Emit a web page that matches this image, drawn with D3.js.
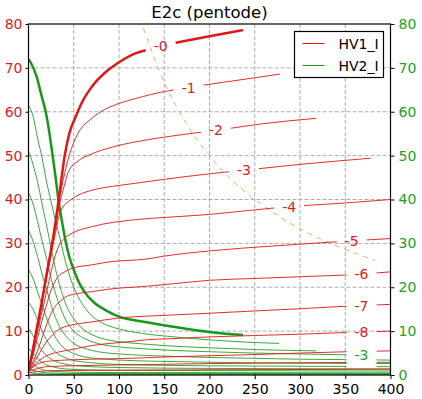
<!DOCTYPE html>
<html>
<head>
<meta charset="utf-8">
<script src="https://cdn.jsdelivr.net/npm/d3@7"></script>
<style>
  body { margin: 0; background: #fff; }
  svg { font-family: "DejaVu Sans", sans-serif; }
</style>
</head>
<body>
<div id="chart-area"></div>
<script>
// plate current (HV1_I) curves, one per grid step, [Va, mA]
var gridLabels = ["-0", "-1", "-2", "-3", "-4", "-5", "-6", "-7", "-8", "", "", ""];
var plateCurves = [
  [[0,1],[5,6],[10,11.5],[15,17],[20,23],[25,28.5],[30,35],[35,42.5],[40,50],[45,55],[52,58.8],[60,62.5],[70,65.7],[88,69.5],[101,71.4],[118,73.3],[132,74.2],[162,75.7],[200,77.2],[237,78.6]],
  [[0,1],[5,6],[10,11.5],[15,17],[20,23],[25,29],[30,35],[35,41],[40,46],[45,50],[50,53],[55,55.2],[70,58.5],[85,60.6],[100,61.9],[118,63],[150,64.6],[191,66],[252,67.8],[278,68.6]],
  [[0,1],[5,5.8],[10,11.2],[15,16.8],[20,22.5],[25,28.5],[30,34],[35,39.5],[40,43.5],[44,46.3],[55,48.8],[70,50.4],[90,51.8],[120,53.2],[153,54.3],[193,55.4],[222,56.2],[260,57.3],[318,58.5]],
  [[0,1],[5,5.5],[10,11],[15,16.5],[20,22],[25,27.5],[30,32.5],[34,36.5],[38,38.3],[44,39.5],[55,41],[70,42.1],[100,43.2],[118,43.7],[150,44.6],[202,45.9],[253,47],[300,48],[378,49.4]],
  [[0,1],[5,5],[10,10],[15,14.5],[20,19],[25,23.5],[30,27.5],[35,30],[40,31.2],[48,32.3],[70,33.8],[118,35.4],[150,35.9],[200,36.6],[268,38],[303,38.6],[350,39.2],[400,40]],
  [[0,1],[5,4.5],[10,8.5],[15,12.5],[20,16],[24,18.8],[28,20.8],[33,22.5],[40,23.5],[48,24.3],[70,25.1],[90,25.8],[129,26.4],[150,27.1],[201,28.3],[270,29.4],[342,30.4],[400,31.1]],
  [[0,1],[5,3],[10,5.5],[15,8.5],[20,11.5],[25,14],[30,15.8],[35,16.8],[42,17.9],[55,18.6],[70,19],[90,19.6],[129,20.2],[160,20.8],[201,21.6],[250,22],[300,22.4],[353,22.8],[400,23.5]],
  [[0,1],[5,2.5],[10,4.2],[15,6],[20,7.6],[25,8.8],[33,10.3],[40,11],[50,11.5],[70,12.1],[100,13],[129,13.4],[160,13.7],[202,14.1],[250,14.6],[300,15.1],[353,15.7],[400,16.1]],
  [[0,1],[5,2],[10,3],[15,3.8],[20,4.4],[30,5.1],[40,5.5],[50,5.9],[70,6.7],[90,7.2],[112,7.6],[129,8],[160,8.3],[202,8.7],[250,9],[300,9.3],[353,9.7],[400,10]],
  [[0,1],[5,1.8],[10,2.5],[15,2.9],[20,3.1],[40,3.4],[70,3.6],[112,3.8],[150,4.1],[239,4.6],[300,5],[352,5.3],[400,5.5]],
  [[0,0.8],[10,1.5],[20,1.9],[50,2.1],[100,2.3],[200,2.6],[300,2.8],[400,2.9]],
  [[0,0.5],[10,0.8],[30,1],[100,1.1],[400,1.3]]
];
// screen current (HV2_I) curves, same grid steps
var screenCurves = [
  [[0,72],[3,71],[9,68],[14,64],[20,59],[26,51],[30,45],[33,40],[37,35],[40.5,31],[45,27],[50,24],[56,21],[63,18.6],[73,16.4],[85,14.8],[100,13.3],[129,12.1],[160,11],[200,9.8],[237,9.1]],
  [[0,61.5],[5,59],[10,54],[15,49.5],[20,44],[25,39.5],[30,35],[35,31],[40,26.5],[50,20],[60,16],[70,13.5],[80,12],[100,10.5],[125,9.5],[150,8.9],[200,8],[250,7.4],[277,7.2]],
  [[0,51],[5,48],[10,44],[15,39],[20,34],[25,29],[30,24],[35,20],[40,16.8],[50,12.8],[60,10.5],[70,9.2],[80,8.4],[100,7.6],[125,7.1],[150,6.7],[200,6.2],[250,5.8],[318,5.5]],
  [[0,41.5],[5,39],[10,35],[15,30.5],[20,26.5],[25,22],[30,18.5],[35,15.5],[40,13],[50,10],[60,8.5],[70,7.6],[80,7],[100,6.4],[125,6],[150,5.7],[200,5.3],[250,5],[300,4.8],[352,4.6]],
  [[0,33],[5,30.5],[10,27],[15,23],[20,19.5],[25,16],[30,13],[35,10.8],[40,9.2],[50,7.2],[60,6.2],[70,5.6],[80,5.2],[100,4.8],[125,4.5],[150,4.3],[200,4],[250,3.8],[300,3.6],[352,3.5],[400,3.4]],
  [[0,24],[5,22],[10,19],[15,16],[20,13],[25,10.5],[30,8.5],[35,7],[40,6],[50,4.9],[60,4.2],[80,3.7],[100,3.4],[150,3.1],[200,2.9],[300,2.7],[400,2.6]],
  [[0,16.5],[5,15],[10,12.5],[15,10],[20,8],[25,6.4],[30,5.2],[40,4],[50,3.3],[60,3],[80,2.6],[100,2.4],[150,2.2],[200,2.1],[300,2],[400,1.9]],
  [[0,10.5],[5,9],[10,7.2],[15,5.6],[20,4.4],[25,3.6],[30,3.1],[40,2.5],[50,2.2],[80,1.8],[100,1.7],[200,1.5],[400,1.4]],
  [[0,6],[5,5],[10,3.8],[15,2.9],[20,2.3],[30,1.7],[40,1.4],[60,1.2],[100,1.05],[200,1],[400,0.9]],
  [[0,3],[5,2.4],[10,1.7],[20,1],[30,0.8],[50,0.65],[100,0.55],[400,0.5]],
  [[0,1.5],[10,0.8],[20,0.5],[50,0.35],[400,0.3]],
  [[0,0.6],[10,0.3],[30,0.2],[400,0.15]]
];
// where the inline labels sit (Va) on each curve, null = no label gap
var plateLabelV = [146, 177, 207, 238, 288, 357, 368, 368, 368, 368, 368, null];
var screenLabelV = [null, null, null, 368, 368, 368, 368, null, null, null, null, null];
var screenLabel = {text: "-3", v: 368, i: 4.6};
// max dissipation line (10 W)
var pmaxCurve = [[127,79],[150,66.7],[175,57.1],[200,50],[225,44.4],[250,40],[275,36.4],[300,33.3],[325,30.8],[350,28.6],[383,26.1]];

var xTicks = [0, 50, 100, 150, 200, 250, 300, 350, 400];
var yTicks = [0, 10, 20, 30, 40, 50, 60, 70, 80];
var legendLabels = ["HV1_I", "HV2_I"];

var red = "#e31515", green = "#179917", redText = "#dc1c1c", greenText = "#22a022";
var legendColors = [red, green];

var margin = {left: 28.5, right: 31.5, top: 24, bottom: 24};
var width = 422 - margin.left - margin.right;
var height = 399 - margin.top - margin.bottom;

var svg = d3.select("#chart-area").append("svg")
    .attr("width", 422)
    .attr("height", 399);

var g = svg.append("g")
    .attr("transform", "translate(" + margin.left + "," + margin.top + ")");

var x = d3.scaleLinear().domain([0, 400]).range([0, width]);
var y = d3.scaleLinear().domain([0, 80]).range([height, 0]);

g.append("defs").append("clipPath").attr("id", "plot-clip")
  .append("rect").attr("width", width).attr("height", height);

// grid
g.selectAll(".vgrid").data(xTicks.slice(1, -1)).enter().append("line")
    .attr("x1", d => x(d)).attr("x2", d => x(d))
    .attr("y1", 0).attr("y2", height)
    .attr("stroke", "#999").attr("stroke-width", 0.8).attr("stroke-dasharray", "4,2");
g.selectAll(".hgrid").data(yTicks.slice(1, -1)).enter().append("line")
    .attr("x1", 0).attr("x2", width)
    .attr("y1", d => y(d)).attr("y2", d => y(d))
    .attr("stroke", "#999").attr("stroke-width", 0.8).attr("stroke-dasharray", "4,2");

function valueAt(pts, v) {
  for (var k = 1; k < pts.length; k++) {
    if (v <= pts[k][0]) {
      var a = pts[k - 1], b = pts[k];
      return a[1] + (b[1] - a[1]) * (v - a[0]) / (b[0] - a[0]);
    }
  }
  return pts[pts.length - 1][1];
}

// split a curve round the label gap (gap is about 30 px wide)
function pieces(pts, labelV) {
  if (labelV == null) return [pts];
  var v0 = x.invert(x(labelV) - 15), v1 = x.invert(x(labelV) + 15);
  var last = pts[pts.length - 1][0];
  var a = pts.filter(p => p[0] < v0);
  if (last > v0) a.push([v0, valueAt(pts, v0)]);
  var out = [a];
  if (last > v1) {
    var b = [[v1, valueAt(pts, v1)]].concat(pts.filter(p => p[0] > v1));
    out.push(b);
  }
  return out;
}

var line = d3.line()
    .x(d => x(d[0]))
    .y(d => y(d[1]))
    .curve(d3.curveMonotoneX);

var plot = g.append("g").attr("clip-path", "url(#plot-clip)");

// dissipation limit
plot.append("path")
    .attr("d", line(pmaxCurve))
    .attr("fill", "none")
    .attr("stroke", "#f2b35c")
    .attr("stroke-width", 1)
    .attr("stroke-dasharray", "5,5");

screenCurves.forEach((pts, k) => {
  pieces(pts, screenLabelV[k]).forEach(p => {
    plot.append("path")
        .attr("d", line(p))
        .attr("fill", "none")
        .attr("stroke", green)
        .attr("stroke-opacity", k == 0 ? 1 : 0.85)
        .attr("stroke-width", k == 0 ? 2.5 : 1);
  });
});

plateCurves.forEach((pts, k) => {
  pieces(pts, plateLabelV[k]).forEach(p => {
    plot.append("path")
        .attr("d", line(p))
        .attr("fill", "none")
        .attr("stroke", red)
        .attr("stroke-opacity", k == 0 ? 1 : 0.9)
        .attr("stroke-width", k == 0 ? 2.5 : 1);
  });
  if (gridLabels[k]) {
    g.append("text")
        .attr("x", x(plateLabelV[k]))
        .attr("y", y(valueAt(pts, plateLabelV[k])))
        .attr("dy", "0.36em")
        .attr("text-anchor", "middle")
        .attr("font-size", "14px")
        .attr("fill", redText)
        .text(gridLabels[k]);
  }
});

g.append("text")
    .attr("x", x(screenLabel.v))
    .attr("y", y(screenLabel.i))
    .attr("dy", "0.36em")
    .attr("text-anchor", "middle")
    .attr("font-size", "14px")
    .attr("fill", greenText)
    .text(screenLabel.text);

// axes
var leftAxis = g.append("g")
    .call(d3.axisLeft(y).tickValues(yTicks).tickSize(3).tickPadding(3));
leftAxis.selectAll("text").attr("fill", redText).attr("font-size", "14px");

var rightAxis = g.append("g")
    .attr("transform", "translate(" + width + ",0)")
    .call(d3.axisRight(y).tickValues(yTicks).tickSize(4).tickPadding(4));
rightAxis.selectAll("text").attr("fill", greenText).attr("font-size", "14px");

var bottomAxis = g.append("g")
    .attr("transform", "translate(0," + height + ")")
    .call(d3.axisBottom(x).tickValues(xTicks).tickSize(4).tickPadding(5));
bottomAxis.selectAll("text").attr("fill", "#000").attr("font-size", "14px");

[leftAxis, rightAxis, bottomAxis].forEach(a => {
  a.attr("font-family", null);
  a.select(".domain").remove();
  a.selectAll(".tick line").attr("stroke", "#000");
});

g.append("rect")
    .attr("width", width).attr("height", height)
    .attr("fill", "none").attr("stroke", "#000").attr("stroke-width", 1.2);

svg.append("text")
    .attr("x", margin.left + width / 2)
    .attr("y", 18)
    .attr("text-anchor", "middle")
    .attr("font-size", "16.5px")
    .text("E2c (pentode)");

// legend
var legend = svg.append("g").attr("transform", "translate(294.5,31.5)");
legend.append("rect")
    .attr("width", 89).attr("height", 46)
    .attr("fill", "#fff").attr("stroke", "#000").attr("stroke-width", 1.2);
legendLabels.forEach((t, k) => {
  legend.append("line")
      .attr("x1", 8).attr("x2", 30)
      .attr("y1", 12 + k * 22).attr("y2", 12 + k * 22)
      .style("stroke", legendColors[k]).attr("stroke-width", 1);
  legend.append("text")
      .attr("x", 44).attr("y", 12 + k * 22)
      .attr("dy", "0.36em")
      .attr("font-size", "14px")
      .text(t);
});
</script>
</body>
</html>
